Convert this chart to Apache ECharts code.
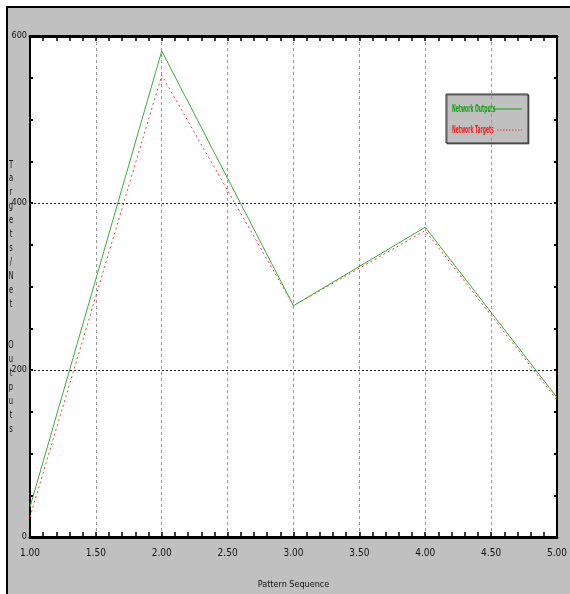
<!DOCTYPE html>
<html>
<head>
<meta charset="utf-8">
<script src="https://cdn.jsdelivr.net/npm/echarts@6/dist/echarts.min.js"></script>
<style>
html,body{margin:0;padding:0;background:#fff;}
#c{width:570px;height:594px;}
</style>
</head>
<body>
<div id="c"></div>
<script>
// Data
var patternX = [1, 2, 3, 4, 5];
var networkOutputs = [36, 582, 277, 371, 167];
var networkTargets = [24, 553, 277, 367, 164];
var refLines = [200, 400];
var seriesNames = ['Network Outputs', 'Network Targets'];
var yTitle = 'Targets/Net  Outputs';
var xTitle = 'Pattern Sequence';

var FONT = '"Liberation Sans Narrow", "DejaVu Sans Condensed", "Liberation Sans", sans-serif';
var GREEN = '#3aae3a';
var RED = '#ff3b3b';

function pairs(xs, ys) { return xs.map(function (x, i) { return [x, ys[i]]; }); }

var chart = echarts.init(document.getElementById('c'), null, {renderer: 'canvas'});

var tickStyle = {show: true, inside: true, length: 5, lineStyle: {color: '#000', width: 1.5}};
var minorStyle = {show: true, splitNumber: 5, length: 5, lineStyle: {color: '#000', width: 1.5}};

chart.setOption({
  backgroundColor: '#ffffff',
  animation: false,
  graphic: [
    {type: 'rect', z: -100, silent: true, shape: {x: 7, y: 7, width: 600, height: 620},
     style: {fill: '#c0c0c0', stroke: '#000', lineWidth: 2}},
    {type: 'text', z: 10, x: 11, y: 158, scaleX: 0.75, silent: true,
     style: {text: yTitle.split('').join('\n'), fill: '#111', font: '10px ' + FONT,
             lineHeight: 13.9, align: 'center', verticalAlign: 'top'}},
    // legend box
    {type: 'group', z: 20, silent: true, children: [
      {type: 'rect', shape: {x: 446, y: 94, width: 82, height: 49},
       style: {fill: '#c0c0c0', stroke: '#333', lineWidth: 1, shadowColor: 'rgba(0,0,0,0.5)', shadowOffsetX: 1, shadowOffsetY: 1}},
      {type: 'text', x: 452, y: 109, scaleX: 0.5,
       style: {text: seriesNames[0], fill: '#10a010', font: 'bold 10px ' + FONT, verticalAlign: 'middle'}},
      {type: 'line', shape: {x1: 493, y1: 109, x2: 522, y2: 109},
       style: {stroke: '#139913', lineWidth: 1}},
      {type: 'text', x: 452, y: 130, scaleX: 0.5,
       style: {text: seriesNames[1], fill: '#ff1a1a', font: 'bold 10px ' + FONT, verticalAlign: 'middle'}},
      {type: 'line', shape: {x1: 497, y1: 130, x2: 522, y2: 130},
       style: {stroke: '#ff3030', lineWidth: 1, lineDash: [1.5, 1.5]}}
    ]}
  ],
  grid: {left: 30, right: 7, top: 36, bottom: 54, show: true, backgroundColor: '#fff',
         borderColor: '#000', borderWidth: 2},
  xAxis: [
    {type: 'value', min: 1, max: 5, interval: 0.5, position: 'bottom',
     name: xTitle, nameLocation: 'middle', nameGap: 43,
     nameTextStyle: {fontFamily: FONT, fontSize: 9, color: '#111'},
     axisLine: {show: true, onZero: false, lineStyle: {color: '#000', width: 3}},
     axisTick: tickStyle, minorTick: minorStyle,
     axisLabel: {fontFamily: FONT, fontSize: 10, color: '#111', margin: 11,
                 formatter: function (v) { return v.toFixed(2); }},
     splitLine: {show: true, lineStyle: {color: '#999', type: [3, 3], width: 1}}},
    {type: 'value', min: 1, max: 5, interval: 0.5, position: 'top',
     axisLine: {show: true, onZero: false, lineStyle: {color: '#000', width: 3}},
     axisTick: tickStyle, minorTick: minorStyle,
     axisLabel: {show: false}, splitLine: {show: false}}
  ],
  yAxis: [
    {type: 'value', min: 0, max: 600, interval: 50, position: 'left',
     axisLine: {show: true, onZero: false, lineStyle: {color: '#000', width: 2}},
     axisTick: {show: true, inside: true, length: 3, lineStyle: {color: '#000', width: 2}},
     axisLabel: {fontFamily: FONT, fontSize: 9, color: '#111', margin: 3,
                 formatter: function (v) { return v % 200 === 0 ? String(v) : ''; }},
     splitLine: {show: false}},
    {type: 'value', min: 0, max: 600, interval: 50, position: 'right',
     axisLine: {show: true, onZero: false, lineStyle: {color: '#000', width: 2}},
     axisTick: {show: true, inside: true, length: 3, lineStyle: {color: '#000', width: 2}},
     axisLabel: {show: false}, splitLine: {show: false}}
  ],
  series: [
    {name: seriesNames[0], type: 'line', xAxisIndex: 0, yAxisIndex: 0,
     data: pairs(patternX, networkOutputs), symbol: 'none', z: 5,
     lineStyle: {color: GREEN, width: 1}, itemStyle: {color: GREEN},
     markLine: {silent: true, symbol: 'none', label: {show: false},
                lineStyle: {color: '#222', type: [2, 2], width: 1},
                data: refLines.map(function (v) { return {yAxis: v}; })}},
    {name: seriesNames[1], type: 'line', xAxisIndex: 0, yAxisIndex: 0,
     data: pairs(patternX, networkTargets), symbol: 'none', z: 4,
     lineStyle: {color: RED, width: 1, type: [2, 3]}, itemStyle: {color: RED}}
  ]
});
</script>
</body>
</html>
